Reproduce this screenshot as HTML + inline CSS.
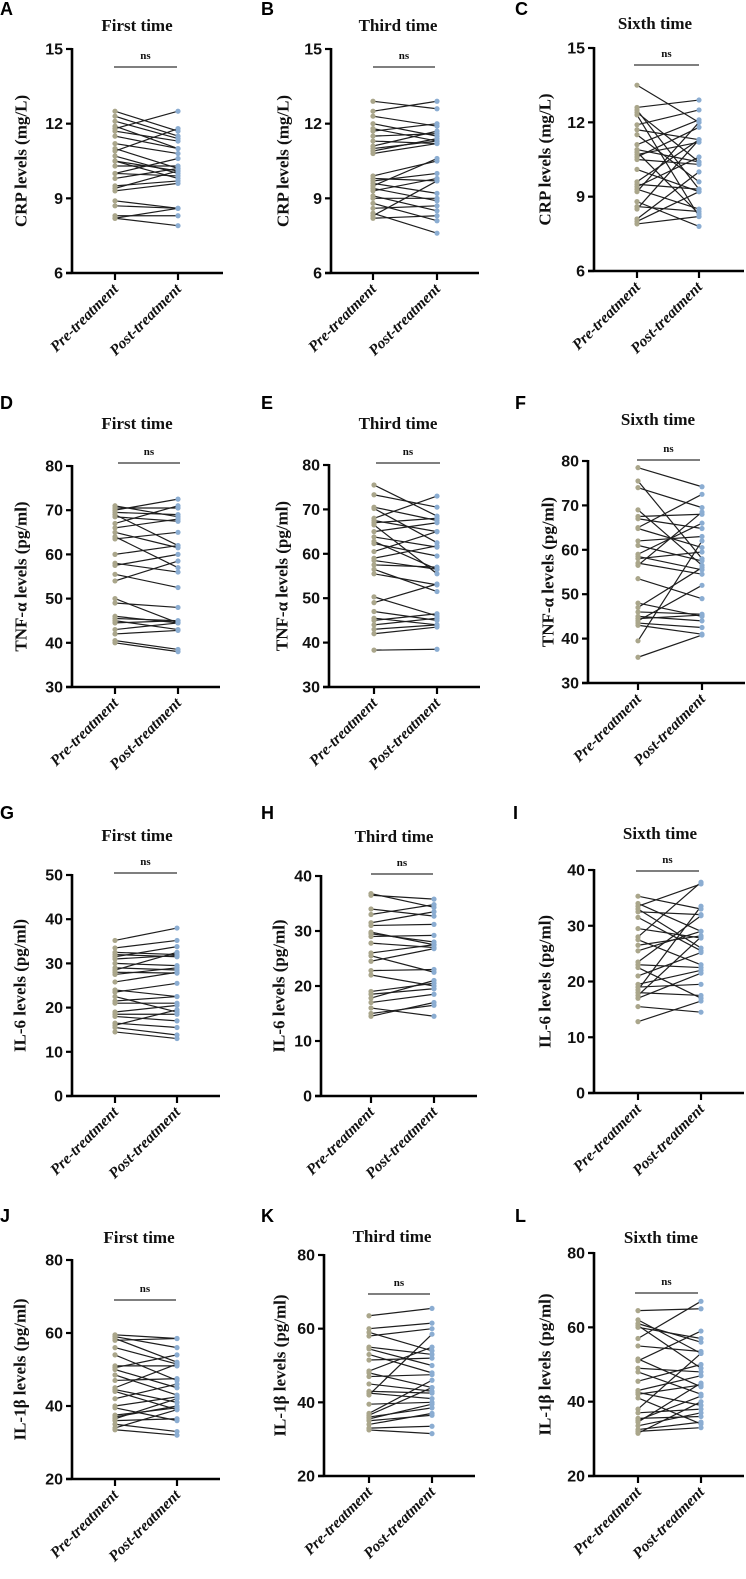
<!DOCTYPE html>
<html><head><meta charset="utf-8">
<style>
html,body{margin:0;padding:0;background:#fff;}
svg{display:block;}
.tick{font-family:"Liberation Sans",sans-serif;font-weight:bold;font-size:16px;fill:#111;}
.ttl{font-family:"Liberation Serif",serif;font-weight:bold;font-size:17px;fill:#111;}
.ytl{font-family:"Liberation Serif",serif;font-weight:bold;font-size:17px;fill:#111;}
.xl{font-family:"Liberation Serif",serif;font-weight:bold;font-style:italic;font-size:15.5px;fill:#111;}
.ns{font-family:"Liberation Serif",serif;font-weight:bold;font-size:11px;fill:#111;}
.let{font-family:"Liberation Sans",sans-serif;font-weight:bold;font-size:18px;fill:#000;}
</style></head>
<body>
<svg id="fig" width="746" height="1579" viewBox="0 0 746 1579"></svg>
<script>
const groups = ["Pre-treatment","Post-treatment"];
const preA=[12.5,12.3,12.1,11.9,11.8,11.7,11.5,11.2,11.0,10.9,10.7,10.5,10.5,10.3,10.0,10.0,9.8,9.5,9.4,9.3,8.9,8.7,8.3,8.2,8.2];
const postA=[11.7,11.5,11.4,11.0,12.5,11.3,11.0,10.8,10.2,11.8,10.0,9.8,10.1,10.3,9.9,10.6,10.2,9.7,10.1,9.6,8.6,8.6,8.3,8.6,7.9];
const preB=[12.9,12.5,12.3,12.0,11.8,11.7,11.5,11.3,11.1,11.0,10.9,10.8,9.9,9.8,9.7,9.6,9.5,9.4,9.3,9.1,9.0,8.8,8.6,8.4,8.3,8.2];
const postB=[12.6,12.9,11.9,11.5,11.3,12.0,11.6,11.2,11.7,11.3,11.4,11.2,10.5,9.7,10.0,9.2,10.6,8.9,9.8,8.5,9.0,8.1,8.7,7.6,9.7,8.3];
const preC=[13.5,12.6,12.5,12.4,12.3,11.9,11.7,11.5,11.1,10.9,10.8,10.7,10.6,10.5,10.1,9.6,9.5,9.4,9.3,9.2,8.8,8.6,8.5,8.1,8.0,7.9];
const postC=[12.0,12.9,9.3,10.4,8.2,12.5,11.3,9.6,12.1,10.4,8.3,11.2,11.8,10.3,9.2,11.3,9.3,10.6,8.5,12.0,7.8,8.4,11.3,10.0,9.2,8.2];
const preD=[71,70.5,70,69.5,69,68.5,67,66,65,64,63.5,60,58,57.5,55.5,54,50,49,46,45.5,45,44.5,43,42,40.5,40];
const postD=[68.5,70.5,72.5,69,62,67.5,71,68,61.5,57,65,62,56,60,52.5,58.5,44.5,48,44.5,45,43,45,44.5,42.8,38.5,38];
const preE=[75.5,73.3,70.5,70.2,68,67.5,67,66.5,65,63.8,62.8,62.3,60.5,59,58.5,57.5,56.5,55.5,50.3,49,47,45.5,45,44,43,42,38.3];
const postE=[68.5,70.5,67.5,62.5,73,65,68,55.5,67,61.5,56.5,59.5,65,61.8,56.5,57,51.5,53,46,53.2,45,44,46.5,45.5,44,43.5,38.5];
const preF=[78.5,75.5,74,69,67.5,67,65,64.8,62,61,59,58.5,58,57,56.5,53.5,48,47,46,45,44.5,44,43.5,43,39.5,35.8];
const postF=[74.2,58,69.5,56.5,68,64.8,72.5,60.5,63,57.5,66,55.5,59.5,54.5,68.5,49,45,56,45.5,44,45.3,52,42.5,41,62,40.8];
const preG=[35.2,33.5,32.5,32,31.5,31,30,29,28.5,28,27.5,25.8,24,23.5,22.5,21.5,21,19,18.5,18,16.5,16,15.5,14.5];
const postG=[38,35.2,32,31.5,33.8,31.8,29.5,28.5,32.5,27.8,29,28,22.5,25.5,19,22.5,21,20.5,18.5,17,15.5,19.5,13.8,13];
const preH=[36.8,36.5,34,33,31.5,31,29.8,29.5,29,27.8,26,25.5,24.5,22.8,22,19,18.5,17.8,17,16,15,14.5];
const postH=[34.3,35.8,32.7,34.8,33.5,31.2,27.5,28,29.2,27,27.5,22.5,26.8,23,20,20.5,19.5,21,18.5,14.5,16.5,17];
const preI=[35.3,34,33.5,33,32.5,31.5,29.5,28,27.5,26.5,25.5,23.5,23,22.5,21,19.5,19,18.5,18,17.5,17,15.5,12.8];
const postI=[33,29,37.5,26,32,25.5,27.8,37.8,23,28.2,29,31.8,22.5,17,25.2,22,19.5,33.5,17.5,28,21.5,14.5,16.5];
const preJ=[59.5,59,58.5,58,56,54,51,50.5,50,48.5,47,45,44.5,44,42,40,39.5,37.5,37,36.5,36,35,34,33.5];
const postJ=[58.5,56,52,58.5,51.5,47,51,54,45,43,47.5,51.5,41,39,46,42.5,36,39.5,40,42,36.5,33,39,32];
const preK=[63.5,60,59,58,55,54.5,53,51.5,48.5,48,47,45,43,42.5,42,39.5,37,36.5,36,35.5,35,34,33,32.5];
const postK=[65.5,61.5,54,60,53,50,48,52,55,44,47.5,43,42.5,41,58.5,40,46,44,38.5,39.5,36.5,37,33.5,31.5];
const preL=[64.5,62,61,60.5,60,57,55,51.5,51,49,48,45.5,43,42.5,42,41,38,37,35.5,35,34.5,33.5,32.5,32,31.5];
const postL=[65,53,56,49,57,67,53.5,44,59,48,42,50,47,39,44.5,34,53,38,36,41.5,45,37,34.5,33,40];
const ticksCRP=[6,9,12,15];
const ticksTNF=[30,40,50,60,70,80];
const ticksIL6G=[0,10,20,30,40,50];
const ticksIL6=[0,10,20,30,40];
const ticksIL1=[20,40,60,80];

const panels=[
 {id:"a",L:"A",lx:0,ly:15,title:"First time",tx:137,ty:31,ax:72,yt:49,yb:273,px:115,qx:178,ex:223,ns:67,n1:114,n2:177,yl:"CRP levels (mg/L)",ylx:21,ticks:ticksCRP,pre:preA,post:postA},
 {id:"b",L:"B",lx:261,ly:15,title:"Third time",tx:398,ty:31,ax:331,yt:49,yb:273,px:373,qx:437,ex:479,ns:67,n1:373,n2:435,yl:"CRP levels (mg/L)",ylx:283,ticks:ticksCRP,pre:preB,post:postB},
 {id:"c",L:"C",lx:515,ly:15,title:"Sixth time",tx:655,ty:29,ax:594,yt:48,yb:271,px:637,qx:699,ex:744,ns:65,n1:634,n2:699,yl:"CRP levels (mg/L)",ylx:545,ticks:ticksCRP,pre:preC,post:postC},
 {id:"d",L:"D",lx:0,ly:409,title:"First time",tx:137,ty:429,ax:72,yt:466,yb:687,px:115,qx:178,ex:220,ns:463,n1:118,n2:180,yl:"TNF-α levels (pg/ml)",ylx:21,ticks:ticksTNF,pre:preD,post:postD},
 {id:"e",L:"E",lx:261,ly:409,title:"Third time",tx:398,ty:429,ax:329,yt:465,yb:687,px:374,qx:437,ex:480,ns:463,n1:376,n2:440,yl:"TNF-α levels (pg/ml)",ylx:282,ticks:ticksTNF,pre:preE,post:postE},
 {id:"f",L:"F",lx:515,ly:409,title:"Sixth time",tx:658,ty:425,ax:588,yt:461,yb:683,px:638,qx:702,ex:745,ns:460,n1:637,n2:700,yl:"TNF-α levels (pg/ml)",ylx:548,ticks:ticksTNF,pre:preF,post:postF},
 {id:"g",L:"G",lx:0,ly:819,title:"First time",tx:137,ty:841,ax:72,yt:875,yb:1096,px:115,qx:177,ex:220,ns:873,n1:114,n2:177,yl:"IL-6 levels (pg/ml)",ylx:20,ticks:ticksIL6G,pre:preG,post:postG},
 {id:"h",L:"H",lx:261,ly:819,title:"Third time",tx:394,ty:842,ax:321,yt:876,yb:1096,px:371,qx:434,ex:477,ns:874,n1:371,n2:433,yl:"IL-6 levels (pg/ml)",ylx:279,ticks:ticksIL6,pre:preH,post:postH},
 {id:"i",L:"I",lx:513,ly:819,title:"Sixth time",tx:660,ty:839,ax:594,yt:870,yb:1093,px:638,qx:701,ex:744,ns:871,n1:636,n2:699,yl:"IL-6 levels (pg/ml)",ylx:545,ticks:ticksIL6,pre:preI,post:postI},
 {id:"j",L:"J",lx:0,ly:1222,title:"First time",tx:139,ty:1243,ax:72,yt:1260,yb:1479,px:115,qx:177,ex:220,ns:1300,n1:114,n2:176,yl:"IL-1β levels (pg/ml)",ylx:20,ticks:ticksIL1,pre:preJ,post:postJ},
 {id:"k",L:"K",lx:261,ly:1222,title:"Third time",tx:392,ty:1242,ax:324,yt:1255,yb:1476,px:369,qx:432,ex:475,ns:1294,n1:368,n2:430,yl:"IL-1β levels (pg/ml)",ylx:280,ticks:ticksIL1,pre:preK,post:postK},
 {id:"l",L:"L",lx:515,ly:1222,title:"Sixth time",tx:661,ty:1243,ax:594,yt:1253,yb:1476,px:638,qx:701,ex:744,ns:1293,n1:635,n2:698,yl:"IL-1β levels (pg/ml)",ylx:545,ticks:ticksIL1,pre:preL,post:postL}
];
const NS="http://www.w3.org/2000/svg";
const svg=document.getElementById("fig");
function mk(tag,attrs,parent){const e=document.createElementNS(NS,tag);for(const k in attrs)e.setAttribute(k,attrs[k]);parent.appendChild(e);return e;}
panels.forEach(p=>{
  const g=mk("g",{},svg);
  
  
  const vmin=p.ticks[0], vmax=p.ticks[p.ticks.length-1];
  const y=v=>p.yb-(v-vmin)/(vmax-vmin)*(p.yb-p.yt);
  const lt=mk("text",{x:p.lx,y:p.ly,class:"let"},g);lt.textContent=p.L;
  
  
  const tt=mk("text",{x:p.tx,y:p.ty,class:"ttl","text-anchor":"middle"},g);tt.textContent=p.title;
  
  
  const cy=(p.yt+p.yb)/2;
  const yl=mk("text",{x:p.ylx,y:cy,class:"ytl","text-anchor":"middle","dominant-baseline":"central",transform:`rotate(-90 ${p.ylx} ${cy})`},g);yl.textContent=p.yl;
  
  
  const ya=mk("line",{x1:p.ax,y1:p.yt-1,x2:p.ax,y2:p.yb,stroke:"#000","stroke-width":2.6},g);
  
  
  const xa=mk("line",{x1:p.ax-6,y1:p.yb,x2:p.ex,y2:p.yb,stroke:"#000","stroke-width":2.6},g);
  
  
  p.ticks.forEach(t=>{
    const yy=y(t);
    mk("line",{x1:p.ax-6,y1:yy,x2:p.ax,y2:yy,stroke:"#000","stroke-width":2.2},g);
    const tl=mk("text",{x:p.ax-9,y:yy+5.5,class:"tick","text-anchor":"end"},g);tl.textContent=t;
    
    
  });
  [p.px,p.qx].forEach((xx,i)=>{
    mk("line",{x1:xx,y1:p.yb,x2:xx,y2:p.yb+7,stroke:"#000","stroke-width":2.2},g);
    const ax=xx+4, ay=p.yb+17;
    const xl=mk("text",{x:ax,y:ay,class:"xl","text-anchor":"end",transform:`rotate(-45 ${ax} ${ay})`},g);xl.textContent=groups[i];
    
    
  });
  const nl=mk("line",{x1:p.n1,y1:p.ns,x2:p.n2,y2:p.ns,stroke:"#333","stroke-width":1.3},g);
  
  
  const nt=mk("text",{x:(p.n1+p.n2)/2,y:p.ns-8,class:"ns","text-anchor":"middle"},g);nt.textContent="ns";
  
  
  const n=Math.min(p.pre.length,p.post.length);
  for(let i=0;i<n;i++){
    const ln=mk("line",{x1:p.px,y1:y(p.pre[i]),x2:p.qx,y2:y(p.post[i]),stroke:"#1e1e1e","stroke-width":1.2},g);
    
    
  }
  for(let i=0;i<n;i++){
    const a=mk("circle",{cx:p.px,cy:y(p.pre[i]),r:2.6,fill:"#aaa68b"},g);
    
    
    const b=mk("circle",{cx:p.qx,cy:y(p.post[i]),r:2.6,fill:"#8badd2"},g);
    
    
  }
});
</script>
</body></html>
